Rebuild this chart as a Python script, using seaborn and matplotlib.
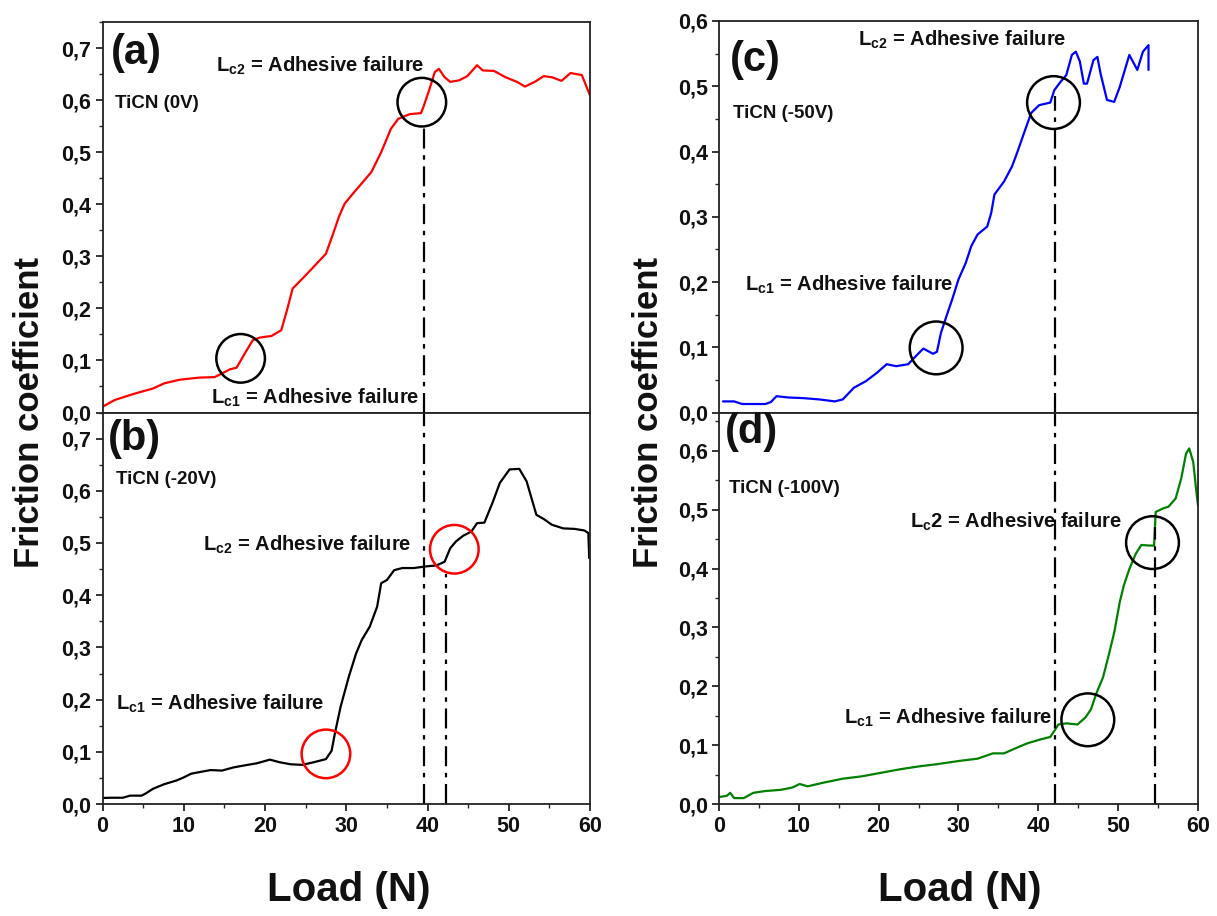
import numpy as np
import pandas as pd
import matplotlib
matplotlib.use("Agg")
import matplotlib.pyplot as plt
import seaborn as sns
from matplotlib.ticker import MultipleLocator, FuncFormatter

# ---------------- data ----------------
load_a = [0, 1.5, 3.9, 6.2, 7.6, 9.5, 11.9, 13.8, 14.7, 15.7, 16.5, 17.5, 18.5, 19.4, 20.8, 22.0,
          22.7, 23.4, 24.6, 26.0, 27.5, 28.4, 29.1, 29.8, 30.8, 31.9, 33.1, 34.3, 35.5, 36.4, 37.8,
          39.2, 39.5, 40.2, 40.9, 41.4, 42.1, 42.8, 43.9, 44.9, 46.1, 46.8, 48.2, 49.6, 51.0, 52.0,
          53.2, 54.3, 55.3, 56.5, 57.6, 59.0, 60.0]
fc_a = [0.011, 0.024, 0.036, 0.046, 0.056, 0.063, 0.067, 0.068, 0.075, 0.083, 0.086, 0.113, 0.139,
        0.144, 0.147, 0.158, 0.196, 0.238, 0.257, 0.280, 0.305, 0.344, 0.376, 0.401, 0.420, 0.440,
        0.462, 0.500, 0.545, 0.564, 0.573, 0.575, 0.587, 0.619, 0.654, 0.660, 0.644, 0.635, 0.638,
        0.646, 0.667, 0.657, 0.656, 0.644, 0.635, 0.626, 0.635, 0.646, 0.644, 0.637, 0.652, 0.648,
        0.609]

load_b = [0, 1.0, 2.5, 3.4, 4.8, 5.3, 6.2, 7.6, 9.1, 10.0, 10.9, 11.9, 13.3, 14.7, 16.1, 17.5, 19.0,
          20.6, 21.8, 23.2, 24.6, 26.0, 27.5, 28.2, 28.6, 29.3, 30.3, 31.2, 31.9, 32.9, 33.8, 34.3,
          35.0, 35.9, 36.9, 38.3, 39.7, 41.1, 42.1, 42.8, 43.5, 44.4, 45.4, 46.1, 47.0, 48.0, 48.9,
          50.1, 51.3, 52.2, 53.4, 54.3, 55.3, 56.7, 58.1, 59.3, 59.8, 59.9]
fc_b = [0.0115, 0.012, 0.012, 0.016, 0.016, 0.020, 0.029, 0.038, 0.045, 0.051, 0.058, 0.061, 0.065,
        0.064, 0.070, 0.074, 0.078, 0.085, 0.080, 0.076, 0.075, 0.080, 0.086, 0.102, 0.135, 0.186,
        0.243, 0.288, 0.314, 0.340, 0.378, 0.423, 0.429, 0.448, 0.452, 0.452, 0.455, 0.457, 0.464,
        0.490, 0.503, 0.514, 0.522, 0.538, 0.539, 0.577, 0.615, 0.641, 0.642, 0.618, 0.554, 0.546,
        0.535, 0.528, 0.527, 0.524, 0.519, 0.471]

load_c = [0.5, 1.9, 2.9, 5.8, 6.5, 7.2, 8.7, 10.6, 12.6, 14.5, 15.5, 16.9, 18.4, 19.8, 21.0, 22.2,
          23.7, 24.7, 25.6, 26.8, 27.3, 27.8, 28.5, 29.2, 30.0, 30.9, 31.6, 32.4, 33.6, 34.1, 34.5,
          35.7, 36.7, 37.4, 38.2, 39.1, 40.1, 41.5, 42.0, 42.8, 43.5, 44.2, 44.7, 45.2, 45.7, 46.1,
          46.9, 47.4, 47.8, 48.6, 49.5, 50.2, 51.4, 52.4, 53.1, 53.8, 53.8]
fc_c = [0.017, 0.017, 0.013, 0.013, 0.016, 0.025, 0.023, 0.022, 0.020, 0.017, 0.020, 0.038, 0.048,
        0.061, 0.074, 0.071, 0.074, 0.087, 0.098, 0.090, 0.093, 0.122, 0.148, 0.173, 0.204, 0.229,
        0.255, 0.273, 0.285, 0.306, 0.334, 0.354, 0.377, 0.400, 0.428, 0.459, 0.471, 0.475, 0.494,
        0.507, 0.517, 0.548, 0.553, 0.538, 0.504, 0.504, 0.540, 0.545, 0.519, 0.479, 0.476, 0.499,
        0.548, 0.525, 0.553, 0.563, 0.525]

load_d = [0.1, 1.0, 1.4, 1.9, 3.1, 4.3, 5.8, 7.7, 9.2, 10.1, 11.1, 13.0, 15.5, 17.9, 20.3, 22.7, 25.1,
          27.5, 30.0, 32.4, 34.3, 35.7, 37.2, 38.6, 40.1, 41.5, 42.0, 42.5, 43.5, 44.9, 45.9, 46.6,
          47.3, 48.1, 48.8, 49.5, 50.2, 50.7, 51.4, 52.2, 52.9, 53.9, 54.5, 54.7, 55.6, 56.3, 57.2,
          57.9, 58.5, 58.9, 59.4, 59.8, 60.0]
fc_d = [0.012, 0.014, 0.019, 0.010, 0.010, 0.019, 0.022, 0.024, 0.028, 0.034, 0.030, 0.036, 0.043,
        0.047, 0.053, 0.059, 0.064, 0.068, 0.073, 0.077, 0.086, 0.086, 0.095, 0.103, 0.109, 0.114,
        0.124, 0.135, 0.137, 0.135, 0.147, 0.161, 0.189, 0.215, 0.252, 0.291, 0.343, 0.371, 0.399,
        0.425, 0.440, 0.439, 0.439, 0.496, 0.502, 0.505, 0.519, 0.553, 0.595, 0.604, 0.581, 0.530,
        0.507]

# circle markers (critical loads): x, y
circles_a = ([17.0, 39.3], [0.104, 0.596])
circles_b = ([27.5, 43.3], [0.096, 0.488])
circles_c = ([27.2, 41.9], [0.099, 0.475])
circles_d = ([46.2, 54.3], [0.143, 0.444])

panel_letters = ["(a)", "(b)", "(c)", "(d)"]
sample_labels = ["TiCN (0V)", "TiCN (-20V)", "TiCN (-50V)", "TiCN (-100V)"]
lc1_label = r"L$_{\mathbf{c1}}$ = Adhesive failure"
lc2_label = r"L$_{\mathbf{c2}}$ = Adhesive failure"
lc2_label_d = r"L$_{\mathbf{c}}$2 = Adhesive failure"
x_label = "Load (N)"
y_label = "Friction coefficient"

# ---------------- style ----------------
sns.set_theme(style="ticks")
plt.rcParams["font.family"] = ["Liberation Sans", "DejaVu Sans"]
plt.rcParams["font.weight"] = "bold"
plt.rcParams["mathtext.fontset"] = "custom"
plt.rcParams["mathtext.bf"] = "Liberation Sans:bold"
plt.rcParams["mathtext.rm"] = "Liberation Sans:bold"
plt.rcParams["mathtext.it"] = "Liberation Sans:bold"

W, H = 1217, 916
fig = plt.figure(figsize=(W / 100, H / 100), dpi=100)

def frac_rect(x0, y0, x1, y1):
    return [x0 / W, 1 - y1 / H, (x1 - x0) / W, (y1 - y0) / H]

ax_a = fig.add_axes(frac_rect(102.5, 22, 590, 412.5))
ax_b = fig.add_axes(frac_rect(102.5, 412.5, 590, 804))
ax_c = fig.add_axes(frac_rect(719, 21, 1198, 412.5))
ax_d = fig.add_axes(frac_rect(719, 412.5, 1198, 804))

comma = FuncFormatter(lambda v, p: f"{v:.1f}".replace(".", ","))
intfmt = FuncFormatter(lambda v, p: f"{int(round(v))}")

def style_axis(ax, ymax, ymajor_max, bottom):
    ax.set_xlim(0, 60)
    ax.set_ylim(0, ymax)
    ax.set_yticks(np.arange(0, ymajor_max + 0.001, 0.1))
    ax.yaxis.set_minor_locator(MultipleLocator(0.05))
    ax.yaxis.set_major_formatter(comma)
    ax.xaxis.set_major_locator(MultipleLocator(10))
    ax.xaxis.set_minor_locator(MultipleLocator(5))
    ax.xaxis.set_major_formatter(intfmt)
    for s in ax.spines.values():
        s.set_visible(True)
        s.set_color("#222222")
        s.set_linewidth(1.3)
    ax.tick_params(axis="y", which="major", direction="out", length=5, width=1.2,
                   labelsize=15.5, pad=3, colors="#111111", right=False)
    ax.tick_params(axis="y", which="minor", direction="out", length=3, width=1.0, right=False)
    if bottom:
        ax.tick_params(axis="x", which="major", direction="out", length=5, width=1.2,
                       labelsize=15.5, pad=4, colors="#111111", top=False)
        ax.tick_params(axis="x", which="minor", direction="out", length=3, width=1.0, top=False)
    else:
        ax.tick_params(axis="x", which="both", length=0, labelbottom=False, top=False)
    for lab in ax.get_xticklabels() + ax.get_yticklabels():
        lab.set_fontweight("bold")
    ax.set_xlabel("")
    ax.set_ylabel("")
    ax.grid(False)

dash = (0, (9, 3, 2, 3))

def vline(ax, x, y0, y1):
    ax.plot([x, x], [y0, y1], color="black", lw=1.6, linestyle=dash)

def draw(ax, load, fc, color, circles, circ_color, circ_size):
    sns.lineplot(x=load, y=fc, ax=ax, color=color, lw=1.6, estimator=None, sort=False)
    ax.scatter(circles[0], circles[1], s=circ_size ** 2, facecolors="none",
               edgecolors=circ_color, linewidths=1.8, zorder=5)

draw(ax_a, load_a, fc_a, "#ff0000", circles_a, "black", 35)
draw(ax_b, load_b, fc_b, "black", circles_b, "#ff0000", 35)
draw(ax_c, load_c, fc_c, "#0000ff", circles_c, "black", 38)
draw(ax_d, load_d, fc_d, "#008000", circles_d, "black", 38)

vline(ax_a, 39.6, 0, 0.555)
vline(ax_b, 39.6, 0, 0.75)
vline(ax_b, 42.3, 0, 0.44)
vline(ax_c, 42.1, 0, 0.485)
vline(ax_d, 42.1, 0, 0.665)
vline(ax_d, 54.6, 0, 0.47)

style_axis(ax_a, 0.75, 0.7, False)
style_axis(ax_b, 0.75, 0.7, True)
style_axis(ax_c, 0.60, 0.6, False)
style_axis(ax_d, 0.665, 0.6, True)

big = dict(fontsize=30, fontweight="bold", ha="left", va="center", color="#111111")
small = dict(fontsize=13.5, fontweight="bold", ha="left", va="center", color="#111111")
mid = dict(fontsize=14.5, fontweight="bold", ha="left", va="center", color="#111111")

ax_a.text(1.0, 0.69, panel_letters[0], **big)
ax_b.text(0.6, 0.70, panel_letters[1], **big)
ax_c.text(1.4, 0.54, panel_letters[2], **big)
ax_d.text(0.7, 0.632, panel_letters[3], **big)

ax_a.text(1.5, 0.593, sample_labels[0], **small)
ax_b.text(1.7, 0.621, sample_labels[1], **small)
ax_c.text(1.7, 0.458, sample_labels[2], **small)
ax_d.text(1.2, 0.536, sample_labels[3], **small)

ax_a.text(14.0, 0.665, lc2_label, **mid)
ax_a.text(13.3, 0.028, lc1_label, **mid)
ax_b.text(12.4, 0.497, lc2_label, **mid)
ax_b.text(1.7, 0.191, lc1_label, **mid)
ax_c.text(17.4, 0.571, lc2_label, **mid)
ax_c.text(3.2, 0.196, lc1_label, **mid)
ax_d.text(23.9, 0.479, lc2_label_d, **mid)
ax_d.text(15.7, 0.147, lc1_label, **mid)

fig.text(30 / W, 1 - 413 / H, y_label, rotation=90, ha="center", va="center",
         fontsize=25, fontweight="bold", color="#111111")
fig.text(648 / W, 1 - 413 / H, y_label, rotation=90, ha="center", va="center",
         fontsize=25, fontweight="bold", color="#111111")
fig.text(349 / W, 1 - 890 / H, x_label, ha="center", va="center",
         fontsize=29, fontweight="bold", color="#111111")
fig.text(960 / W, 1 - 890 / H, x_label, ha="center", va="center",
         fontsize=29, fontweight="bold", color="#111111")

fig.savefig("out.png", dpi=100, facecolor="white")
